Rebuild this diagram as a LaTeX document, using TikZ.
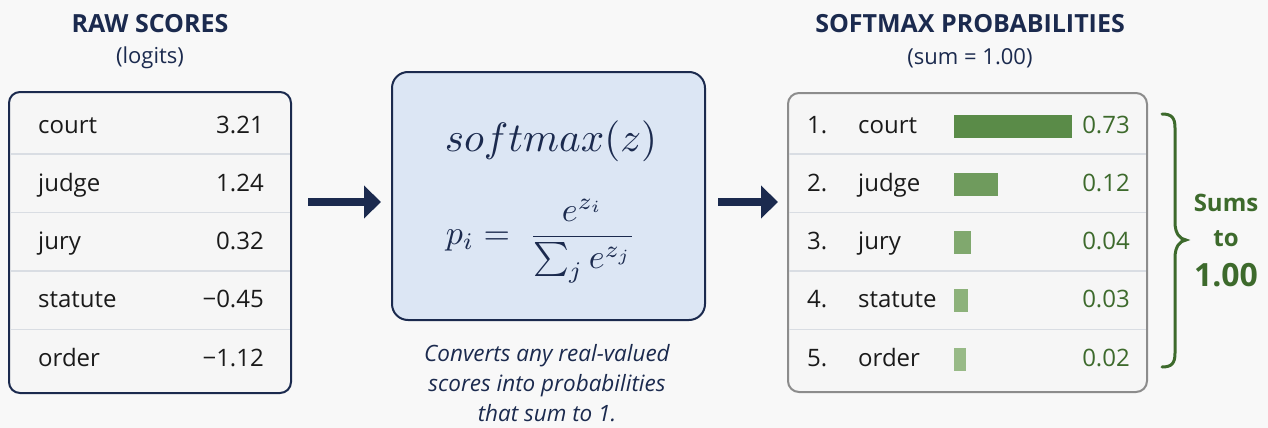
\documentclass[tikz,border=0pt]{standalone}
\usepackage{amsmath}
\usepackage{graphicx}
\usepackage[no-math]{fontspec}
\setmainfont{Open Sans}
\usetikzlibrary{arrows.meta,calc}
\definecolor{navy}{HTML}{1B2A4E}
\definecolor{bg}{HTML}{F8F8F8}
\definecolor{cell}{HTML}{F6F6F6}
\definecolor{divc}{HTML}{D9DDE3}
\definecolor{midfill}{HTML}{DCE6F4}
\definecolor{gtxt}{HTML}{3D6A2C}
\definecolor{rbord}{HTML}{8C8C8C}
\definecolor{txt}{HTML}{1A1A1A}
\definecolor{barA}{HTML}{5A8B48}
\definecolor{barB}{HTML}{6F9B5D}
\definecolor{barC}{HTML}{80A86E}
\definecolor{barD}{HTML}{8DB27B}
\definecolor{barE}{HTML}{98BA87}
\tikzset{
  ttl/.style={font=\fontsize{25}{28}\selectfont\bfseries, text=navy, inner sep=0pt},
  subt/.style={font=\fontsize{22}{26}\selectfont, text=navy, inner sep=0pt},
  cellt/.style={font=\fontsize{24}{28}\selectfont, text=txt, inner sep=0pt, text height=17pt, text depth=5pt},
  gval/.style={cellt, text=gtxt},
  divline/.style={divc, line width=1.5pt},
  bigarrow/.style={navy, line width=8pt, -{Triangle[length=17pt,width=32pt]}},
  barbox/.style={inner sep=0pt, minimum height=23pt, anchor=west},
}
\begin{document}
\begin{tikzpicture}[x=1pt,y=-1pt]
\fill[bg] (0,0) rectangle (1268,428);
\useasboundingbox (0,0) rectangle (1268,428);

% ---------- left panel ----------
\node[ttl] (t1) at (150,24) {RAW SCORES};
\node[subt] (s1) at (150,58) {(logits)};
\node[draw=navy, line width=2pt, rounded corners=11pt, fill=cell,
      minimum width=282pt, minimum height=301pt, inner sep=0pt] (lbox) at (150,242.5) {};
\foreach \y in {154,212.5,271,329.5} \draw[divline] (10,\y) -- (290,\y);
\foreach \w/\v [count=\i] in {court/3.21, judge/1.24, jury/0.32, statute/−0.45, order/−1.12} {
  \node[cellt, anchor=west] (lw\i) at (38,{127+58.3*(\i-1)}) {\w};
  \node[cellt, anchor=east] (lv\i) at (264,{127+58.3*(\i-1)}) {\v};
}

% ---------- middle panel ----------
\node[draw=navy, line width=2pt, rounded corners=16pt, fill=midfill,
      minimum width=313pt, minimum height=248pt, inner sep=0pt] (mid) at (548.5,196) {};
\node[inner sep=0pt, text=navy] (smx) at (551,141) {\scalebox{4.1}{$softmax(z)$}};
\node[inner sep=0pt, text=navy] (eq) at (541,241) {\scalebox{3.4}{$p_i =\; \dfrac{e^{z_i}}{\sum_j e^{z_j}}$}};
\node[inner sep=0pt, text=navy, align=center, font=\fontsize{22.5}{30}\selectfont\itshape] (cap) at (547,383)
  {Converts any real-valued\\scores into probabilities\\that sum to 1.};

% ---------- right panel ----------
\node[ttl] (t2) at (970,24) {SOFTMAX PROBABILITIES};
\node[subt] (s2) at (970,58) {(sum = 1.00)};
\node[draw=rbord, line width=2pt, rounded corners=11pt, fill=cell,
      minimum width=359pt, minimum height=299pt, inner sep=0pt] (rbox) at (967.5,242.5) {};
\foreach \y in {154,212.5,271,329.5} \draw[divline] (789,\y) -- (1146,\y);
\foreach \w/\v/\bw/\bc [count=\i] in {court/0.73/118/barA, judge/0.12/44/barB, jury/0.04/17/barC, statute/0.03/14/barD, order/0.02/12/barE} {
  \node[cellt, anchor=west] (rn\i) at (807,{127+58.3*(\i-1)}) {\i.};
  \node[cellt, anchor=west] (rw\i) at (858,{127+58.3*(\i-1)}) {\w};
  \node[barbox, fill=\bc, minimum width=\bw pt] (rb\i) at (954,{126+58.3*(\i-1)}) {};
  \node[gval, anchor=east] (rv\i) at (1130,{127+58.3*(\i-1)}) {\v};
}

% ---------- brace ----------
\coordinate (bt) at (1162,114);
\coordinate (bb) at (1162,367);
\draw[gtxt, line width=3pt, line cap=round]
  (bt) .. controls (1172,114) and (1175,118) .. (1175,128)
  -- (1175,222) .. controls (1175,234) and (1180,239) .. (1186,240)
  .. controls (1180,241) and (1175,246) .. (1175,258)
  -- (1175,353) .. controls (1175,363) and (1172,367) .. (bb);
\node[inner sep=0pt, text=gtxt, font=\fontsize{24}{28}\selectfont\bfseries] (sums) at (1226,203) {Sums};
\node[inner sep=0pt, text=gtxt, font=\fontsize{24}{28}\selectfont\bfseries] (to) at (1226,239) {to};
\node[inner sep=0pt, text=gtxt, font=\fontsize{32}{36}\selectfont\bfseries] (one) at (1226,275) {1.00};

% ---------- arrows ----------
\draw[bigarrow, shorten <=16pt, shorten >=10pt] ([yshift=-6pt]lbox.east |- mid.center) -- ([yshift=-6pt]mid.west);
\draw[bigarrow, shorten <=12pt, shorten >=9pt] ([yshift=-6pt]mid.east) -- ([yshift=-6pt]rbox.west |- mid.east);
\end{tikzpicture}
\end{document}
